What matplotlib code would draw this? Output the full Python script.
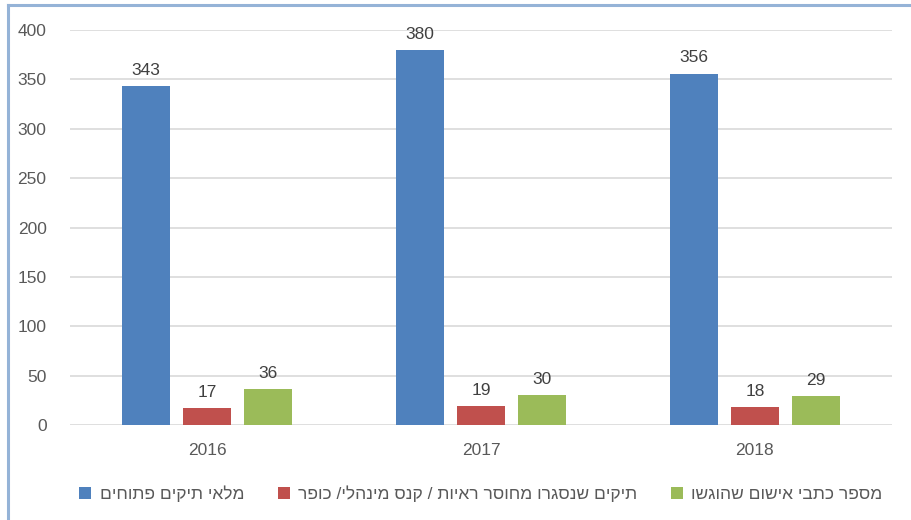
import numpy as np
import matplotlib.pyplot as plt
from matplotlib.lines import Line2D

plt.rcParams['font.family'] = ['Liberation Sans', 'DejaVu Sans']

years = ['2016', '2017', '2018']
open_cases = [343, 380, 356]
closed_cases = [17, 19, 18]
indictments = [36, 30, 29]

# logical Hebrew text, reversed for left-to-right drawing
series_names = ['מלאי תיקים פתוחים',
                'תיקים שנסגרו מחוסר ראיות / קנס מינהלי/ כופר',
                'מספר כתבי אישום שהוגשו']
colors = ['#4F81BD', '#C0504D', '#9BBB59']
text_col = '#595959'

fig = plt.figure(figsize=(9.11, 5.20), dpi=100)
ax = fig.add_axes([0.077, 0.183, 0.902, 0.759])

x = np.arange(len(years))
width = 0.175
step = 0.223
for i, (vals, name, c) in enumerate(zip([open_cases, closed_cases, indictments], series_names, colors)):
    bars = ax.bar(x + (i - 1) * step, vals, width, color=c, label=name[::-1], zorder=3)
    for b, v in zip(bars, vals):
        ax.annotate(str(v), (b.get_x() + b.get_width() / 2, v), xytext=(0, 6),
                    textcoords='offset points', ha='center', va='bottom',
                    fontsize=12.5, color='#404040')

ax.set_xlim(-0.5, 2.5)
ax.set_ylim(0, 400)
ax.set_yticks(range(0, 401, 50))
ax.set_xticks(x)
ax.set_xticklabels(years)
ax.grid(axis='y', color='#D9D9D9', linewidth=1.2, zorder=0)
for s in ax.spines.values():
    s.set_visible(False)
ax.tick_params(length=0, labelsize=12.5, labelcolor=text_col)
ax.tick_params(axis='x', pad=13)
ax.tick_params(axis='y', pad=17)

ax.legend(loc='upper center', bbox_to_anchor=(0.5, -0.115), ncol=3, frameon=False,
          fontsize=12.5, handlelength=0.7, handleheight=0.7, handletextpad=0.5,
          columnspacing=1.9, labelcolor=text_col)

# light blue frame on top and left
fig.add_artist(Line2D([0.009, 1.0], [0.99, 0.99], color='#95B3D7', linewidth=2.2))
fig.add_artist(Line2D([0.009, 0.009], [0.0, 0.99], color='#95B3D7', linewidth=2.2))

fig.savefig('out.png', dpi=100)
